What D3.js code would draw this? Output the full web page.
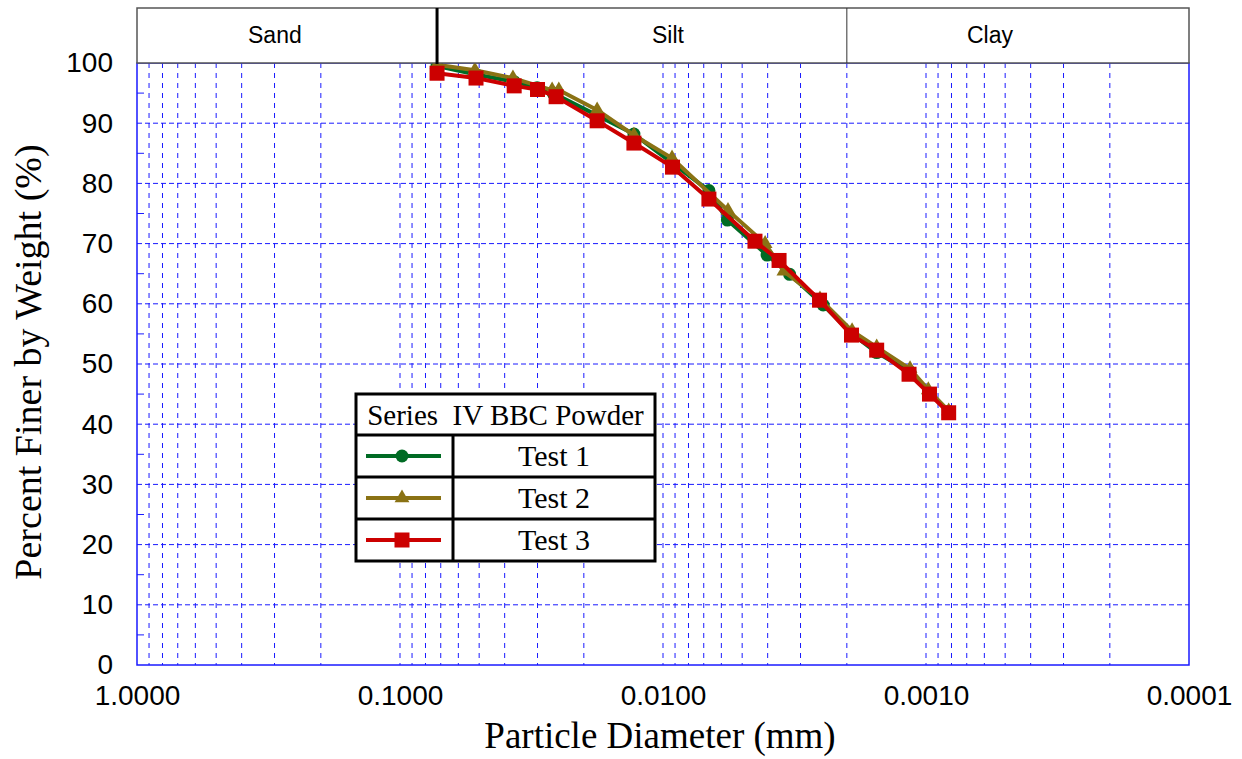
<!DOCTYPE html>
<html>
<head>
<meta charset="utf-8">
<script src="https://cdn.jsdelivr.net/npm/d3@7"></script>
<style>
  body { margin: 0; background: #fff; }
  svg { display: block; }
</style>
</head>
<body>
<svg id="chart" width="1242" height="759"></svg>
<script>
// Data (particle diameter in mm, percent finer)
const test1Diam = [0.0723, 0.0514, 0.0368, 0.0301, 0.0262, 0.0178, 0.0129, 0.00924, 0.00669, 0.00569, 0.00402, 0.0033, 0.00246, 0.0019, 0.00154, 0.00115, 0.00097, 0.00082];
const test1Pct = [99.5, 98.1, 96.9, 95.9, 95.0, 91.3, 88.2, 83.4, 78.8, 73.9, 68.1, 64.9, 59.8, 54.9, 51.9, 48.7, 45.1, 42.1];

const test2Diam = [0.0723, 0.0519, 0.0372, 0.0264, 0.0249, 0.0178, 0.0129, 0.00924, 0.00566, 0.00409, 0.00347, 0.00253, 0.00191, 0.00154, 0.00115, 0.00098, 0.00082];
const test2Pct = [99.7, 98.8, 97.5, 95.5, 95.5, 92.2, 88.0, 84.2, 75.5, 70.0, 65.4, 60.8, 55.5, 52.8, 49.2, 45.7, 42.2];

const test3Diam = [0.0723, 0.0514, 0.0368, 0.03, 0.0255, 0.0178, 0.0129, 0.0092, 0.00669, 0.00447, 0.00362, 0.00254, 0.00192, 0.00154, 0.00116, 0.00097, 0.00082];
const test3Pct = [98.3, 97.5, 96.2, 95.6, 94.4, 90.4, 86.7, 82.7, 77.4, 70.4, 67.2, 60.6, 54.8, 52.3, 48.3, 45.0, 41.9];

const xTicks = [1, 0.1, 0.01, 0.001, 0.0001];
const yTicks = [0, 10, 20, 30, 40, 50, 60, 70, 80, 90, 100];

// soil classes: boundaries and label positions (mm)
const soilBounds = [1, 0.0723, 0.002, 0.0001];
const soilNames = ["Sand", "Silt", "Clay"];
const soilLabelAt = [0.299, 0.00957, 0.000571];

const seriesNames = ["Test 1", "Test 2", "Test 3"];
const legendTitle = "Series  IV BBC Powder";

const series = [
  { name: seriesNames[0], diam: test1Diam, pct: test1Pct, color: "#006b24", marker: "circle" },
  { name: seriesNames[1], diam: test2Diam, pct: test2Pct, color: "#8a7214", marker: "triangle" },
  { name: seriesNames[2], diam: test3Diam, pct: test3Pct, color: "#cc0000", marker: "square" }
];

const svg = d3.select("#chart");
const margin = { left: 137, right: 53, top: 63, bottom: 94 };
const width = 1242 - margin.left - margin.right,
  height = 759 - margin.top - margin.bottom;

const x = d3.scaleLog().domain([1, 0.0001]).range([0, width]);
const y = d3.scaleLinear().domain([0, 100]).range([height, 0]);

const g = svg.append("g").attr("transform", `translate(${margin.left},${margin.top})`);

// grid: vertical lines at 1..9 x each decade
const vGrid = [];
[1, 0.1, 0.01, 0.001].forEach((dec) => {
  for (let k = 1; k <= 9; k++) vGrid.push(dec / 10 * k);
});
g.append("g")
  .selectAll("line")
  .data(vGrid.filter((d) => d < 1 && d > 0.0001))
  .join("line")
  .attr("x1", (d) => x(d))
  .attr("x2", (d) => x(d))
  .attr("y1", 0)
  .attr("y2", height)
  .attr("stroke", "#1a1aff")
  .attr("stroke-width", 1)
  .attr("stroke-dasharray", "5,5");

g.append("g")
  .selectAll("line")
  .data(yTicks.filter((d) => d > 0 && d < 100))
  .join("line")
  .attr("x1", 0)
  .attr("x2", width)
  .attr("y1", (d) => y(d))
  .attr("y2", (d) => y(d))
  .attr("stroke", "#1a1aff")
  .attr("stroke-width", 1)
  .attr("stroke-dasharray", "5,3");

// frame
g.append("rect")
  .attr("width", width)
  .attr("height", height)
  .attr("fill", "none")
  .attr("stroke", "#1a1aff")
  .attr("stroke-width", 1.5);

// minor y ticks at 5s
g.append("g")
  .selectAll("line")
  .data(d3.range(5, 100, 10))
  .join("line")
  .attr("x1", 0)
  .attr("x2", 7)
  .attr("y1", (d) => y(d))
  .attr("y2", (d) => y(d))
  .attr("stroke", "#1a1aff")
  .attr("stroke-width", 1);

// axes labels
const yAxis = d3.axisLeft(y).tickValues(yTicks).tickSize(0).tickPadding(24);
g.append("g")
  .call(yAxis)
  .call((a) => a.select(".domain").remove())
  .selectAll("text")
  .attr("font-family", "Liberation Sans, Arial, sans-serif")
  .attr("font-size", 28)
  .attr("fill", "#000");

const xAxis = d3.axisBottom(x).tickValues(xTicks).tickSize(0).tickPadding(20)
  .tickFormat(d3.format(".4f"));
g.append("g")
  .attr("transform", `translate(0,${height})`)
  .call(xAxis)
  .call((a) => a.select(".domain").remove())
  .selectAll("text")
  .attr("font-family", "Liberation Sans, Arial, sans-serif")
  .attr("font-size", 28)
  .attr("fill", "#000");

// axis titles
svg.append("text")
  .attr("x", 660)
  .attr("y", 748)
  .attr("text-anchor", "middle")
  .attr("font-family", "Liberation Serif, Times New Roman, serif")
  .attr("font-size", 37)
  .attr("fill", "#000")
  .text("Particle Diameter (mm)");

svg.append("text")
  .attr("transform", "translate(41,362) rotate(-90)")
  .attr("text-anchor", "middle")
  .attr("font-family", "Liberation Serif, Times New Roman, serif")
  .attr("font-size", 38)
  .attr("fill", "#000")
  .text("Percent Finer by Weight (%)");

// soil class header
const header = svg.append("g").attr("transform", `translate(${margin.left},8)`);
const headerH = margin.top - 8;
header.append("rect")
  .attr("width", width)
  .attr("height", headerH)
  .attr("fill", "#fff")
  .attr("stroke", "#555")
  .attr("stroke-width", 1.5);
header.append("line")
  .attr("x1", x(soilBounds[1])).attr("x2", x(soilBounds[1]))
  .attr("y1", 0).attr("y2", headerH + 1)
  .attr("stroke", "#000").attr("stroke-width", 3);
header.append("line")
  .attr("x1", x(soilBounds[2])).attr("x2", x(soilBounds[2]))
  .attr("y1", 0).attr("y2", headerH)
  .attr("stroke", "#333").attr("stroke-width", 1);
header.selectAll("text.soil")
  .data(soilNames)
  .join("text")
  .attr("class", "soil")
  .attr("x", (d, i) => x(soilLabelAt[i]))
  .attr("y", headerH / 2 + 7)
  .attr("text-anchor", "middle")
  .attr("font-family", "Liberation Sans, Arial, sans-serif")
  .attr("font-size", 23)
  .attr("fill", "#000")
  .text((d) => d);

// series lines and markers
const line = d3.line()
  .x((d) => x(d[0]))
  .y((d) => y(d[1]));

function drawMarker(sel, type, color) {
  if (type === "circle") {
    sel.append("circle").attr("r", 6.5).attr("fill", color);
  } else if (type === "triangle") {
    sel.append("path")
      .attr("d", d3.symbol().type(d3.symbolTriangle).size(95))
      .attr("fill", color);
  } else {
    sel.append("rect")
      .attr("x", -7.5).attr("y", -7.5)
      .attr("width", 15).attr("height", 15)
      .attr("fill", color);
  }
}

const plot = g.append("g");
series.forEach((s) => {
  const pts = s.diam.map((d, i) => [d, s.pct[i]]);
  plot.append("path")
    .datum(pts)
    .attr("d", line)
    .attr("fill", "none")
    .attr("stroke", s.color)
    .attr("stroke-width", 4)
    .attr("stroke-linejoin", "round");
  plot.append("g")
    .selectAll("g")
    .data(pts)
    .join("g")
    .attr("transform", (d) => `translate(${x(d[0])},${y(d[1])})`)
    .each(function () {
      drawMarker(d3.select(this), s.marker, s.color);
    });
});

// legend table
const lg = svg.append("g").attr("transform", "translate(356,394)");
const lgW = 299, titleH = 41, rowH = 42, col1 = 97;
lg.append("rect")
  .attr("width", lgW)
  .attr("height", titleH + rowH * 3)
  .attr("fill", "#fff")
  .attr("stroke", "#000")
  .attr("stroke-width", 3);
lg.append("text")
  .attr("x", lgW / 2)
  .attr("y", titleH / 2 + 10)
  .attr("text-anchor", "middle")
  .attr("font-family", "Liberation Serif, Times New Roman, serif")
  .attr("font-size", 29)
  .attr("fill", "#000")
  .attr("xml:space", "preserve")
  .style("white-space", "pre")
  .text(legendTitle);
lg.append("line")
  .attr("x1", col1).attr("x2", col1)
  .attr("y1", titleH).attr("y2", titleH + rowH * 3)
  .attr("stroke", "#000").attr("stroke-width", 3);
series.forEach((s, i) => {
  const top = titleH + rowH * i;
  lg.append("line")
    .attr("x1", 0).attr("x2", lgW)
    .attr("y1", top).attr("y2", top)
    .attr("stroke", "#000").attr("stroke-width", 3);
  const cy = top + rowH / 2;
  lg.append("line")
    .attr("x1", 10).attr("x2", 85)
    .attr("y1", cy).attr("y2", cy)
    .attr("stroke", s.color).attr("stroke-width", 4);
  drawMarker(lg.append("g").attr("transform", `translate(46,${cy})`), s.marker, s.color);
  lg.append("text")
    .attr("x", (col1 + lgW) / 2)
    .attr("y", cy + 10)
    .attr("text-anchor", "middle")
    .attr("font-family", "Liberation Serif, Times New Roman, serif")
    .attr("font-size", 30)
    .attr("fill", "#000")
    .text(s.name);
});
</script>
</body>
</html>
